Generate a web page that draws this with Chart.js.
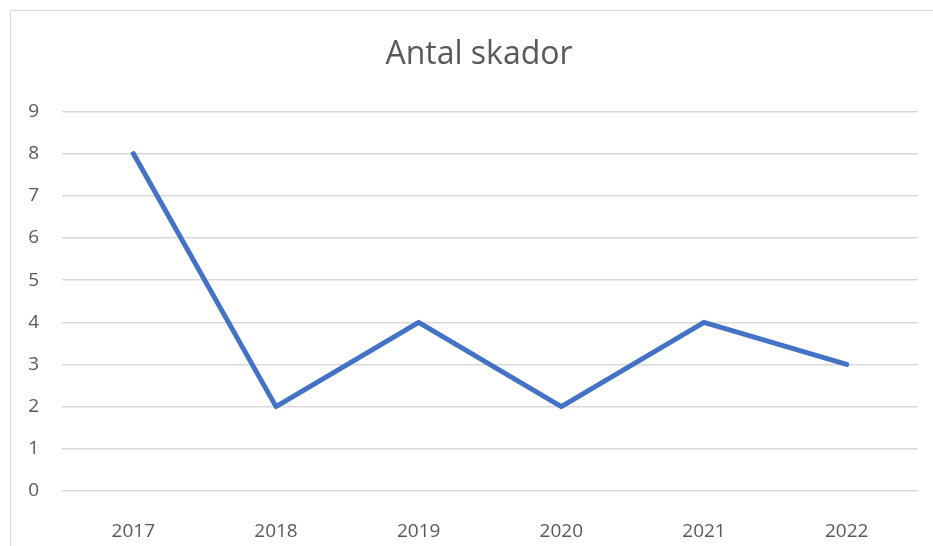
<!DOCTYPE html>
<html>
<head>
<meta charset="utf-8">
<script src="https://cdn.jsdelivr.net/npm/chart.js@4"></script>
<style>
  html, body { margin: 0; padding: 0; background: #fff; overflow: hidden; }
  #frame {
    position: absolute; left: 10px; top: 10px;
    width: 940px; height: 560px;
    border: 1.5px solid #d9d9d9;
  }
  #wrap { position: absolute; left: 0; top: 0; width: 933px; height: 546px; }
</style>
</head>
<body>
<div id="frame"></div>
<div id="wrap"><canvas id="skador"></canvas></div>
<script>
// chart data
const years = ['2017', '2018', '2019', '2020', '2021', '2022'];
const skador = [8, 2, 4, 2, 4, 3];
const yTicks = [0, 1, 2, 3, 4, 5, 6, 7, 8, 9];

const textColor = '#595959';
const gridColor = '#d9d9d9';

// nudge the title a little to the right, like in the original
const titleShift = {
  id: 'titleShift',
  afterLayout: function (chart) {
    if (chart.titleBlock) {
      chart.titleBlock.left += 40;
    }
  }
};

const ctx = document.getElementById('skador').getContext('2d');
const chart = new Chart(ctx, {
  type: 'line',
  data: {
    labels: years,
    datasets: [{
      label: 'Antal skador',
      data: skador,
      borderColor: '#4472C4',
      borderWidth: 5,
      pointRadius: 0,
      borderJoinStyle: 'round',
      borderCapStyle: 'round',
      tension: 0,
      fill: false
    }]
  },
  options: {
    responsive: true,
    maintainAspectRatio: false,
    animation: false,
    layout: { padding: { left: 0, right: 15, top: 0, bottom: 0 } },
    plugins: {
      legend: { display: false },
      tooltip: { enabled: false },
      title: {
        display: true,
        text: 'Antal skador',
        color: textColor,
        font: { family: 'Open Sans', size: 32, weight: 'normal' },
        padding: { top: 36, bottom: 37 }
      }
    },
    scales: {
      x: {
        offset: true,
        grid: { display: false, drawTicks: false },
        border: { display: false },
        ticks: {
          color: textColor,
          padding: 29,
          font: { family: 'Open Sans', size: 19 }
        },
        afterFit: function (scale) { scale.height = 55; }
      },
      y: {
        min: 0,
        max: 9,
        afterBuildTicks: function (scale) {
          scale.ticks = yTicks.map(v => ({ value: v }));
        },
        grid: { color: gridColor, lineWidth: 1.5, drawTicks: false },
        border: { display: false },
        ticks: {
          color: textColor,
          padding: 23,
          font: { family: 'Open Sans', size: 19 }
        },
        afterFit: function (scale) { scale.width = 62; }
      }
    }
  },
  plugins: [titleShift]
});
</script>
</body>
</html>
